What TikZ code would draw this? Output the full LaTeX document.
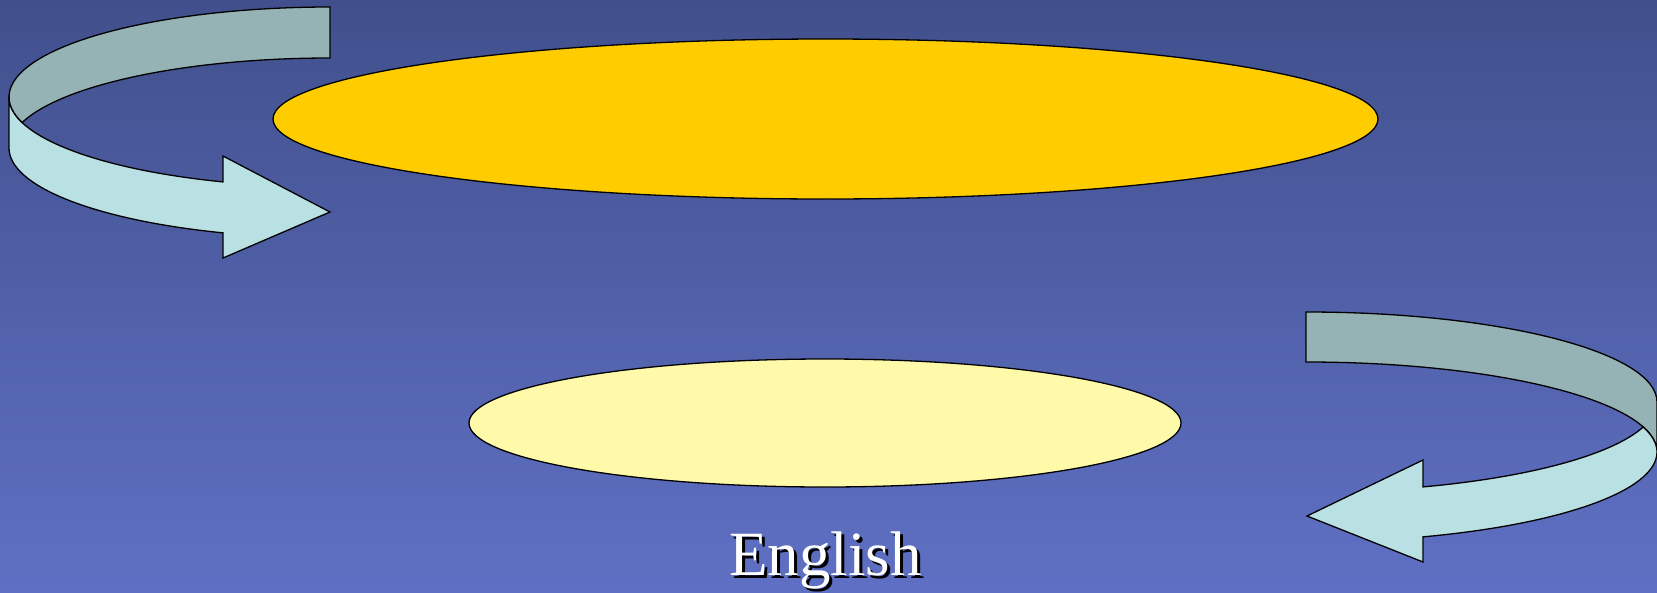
\documentclass[tikz,border=0pt]{standalone}
\usepackage{fontspec}
\setmainfont{Liberation Serif}
\usetikzlibrary{shapes.geometric}
\definecolor{bgtop}{RGB}{65,80,140}
\definecolor{bgbot}{RGB}{95,112,196}
\definecolor{gold}{RGB}{255,204,0}
\definecolor{paleyel}{RGB}{255,250,170}
\definecolor{banddark}{RGB}{149,179,181}
\definecolor{bandlight}{RGB}{185,224,226}
\begin{document}
\begin{tikzpicture}[x=1pt,y=1pt,
  outl/.style={draw=black,line width=1.3pt,line join=miter},
  ellbox/.style={ellipse,outl,inner sep=0pt},
  lbl/.style={font=\fontsize{63}{70}\selectfont,inner sep=0pt,anchor=base}]
\useasboundingbox (0,0) rectangle (1657,-592);
\shade[top color=bgtop,bottom color=bgbot] (0,0) rectangle (1657,-592);
% ellipses
\node[ellbox,fill=gold,minimum width=1105pt,minimum height=160pt] (top) at (825.5,-119) {};
\node[ellbox,fill=paleyel,minimum width=712pt,minimum height=128pt] (mid) at (825,-423) {};
% left circular arrow
\draw[outl,fill=bandlight] (9,-97) -- (9,-148)
  arc[start angle=180,end angle=250.53,x radius=321pt,y radius=90pt]
  -- (223,-258) -- (330,-212) -- (223,-156) -- (223,-181.9)
  arc[start angle=250.53,end angle=180,x radius=321pt,y radius=90pt] -- cycle;
\draw[outl,fill=banddark] (330,-7)
  arc[start angle=90,end angle=196.46,x radius=321pt,y radius=90pt]
  arc[start angle=163.54,end angle=90,x radius=321pt,y radius=90pt] -- cycle;
% right circular arrow
\draw[outl,fill=banddark] (1306,-312)
  arc[start angle=90,end angle=0,x radius=351pt,y radius=90pt]
  -- (1657,-452)
  arc[start angle=0,end angle=90,x radius=351pt,y radius=90pt] -- cycle;
\draw[outl,fill=bandlight] (1657,-452)
  arc[start angle=0,end angle=-70.53,x radius=351pt,y radius=90pt]
  -- (1423,-562) -- (1307,-516) -- (1423,-460) -- (1423,-486.9)
  arc[start angle=-70.53,end angle=-16.13,x radius=351pt,y radius=90pt]
  arc[start angle=16.13,end angle=0,x radius=351pt,y radius=90pt] -- cycle;
% label with shadow
\node[lbl,text=black] (engshadow) at (828.5,-578) {English};
\node[lbl,text=white] (eng) at (825.5,-575) {English};
\end{tikzpicture}
\end{document}
